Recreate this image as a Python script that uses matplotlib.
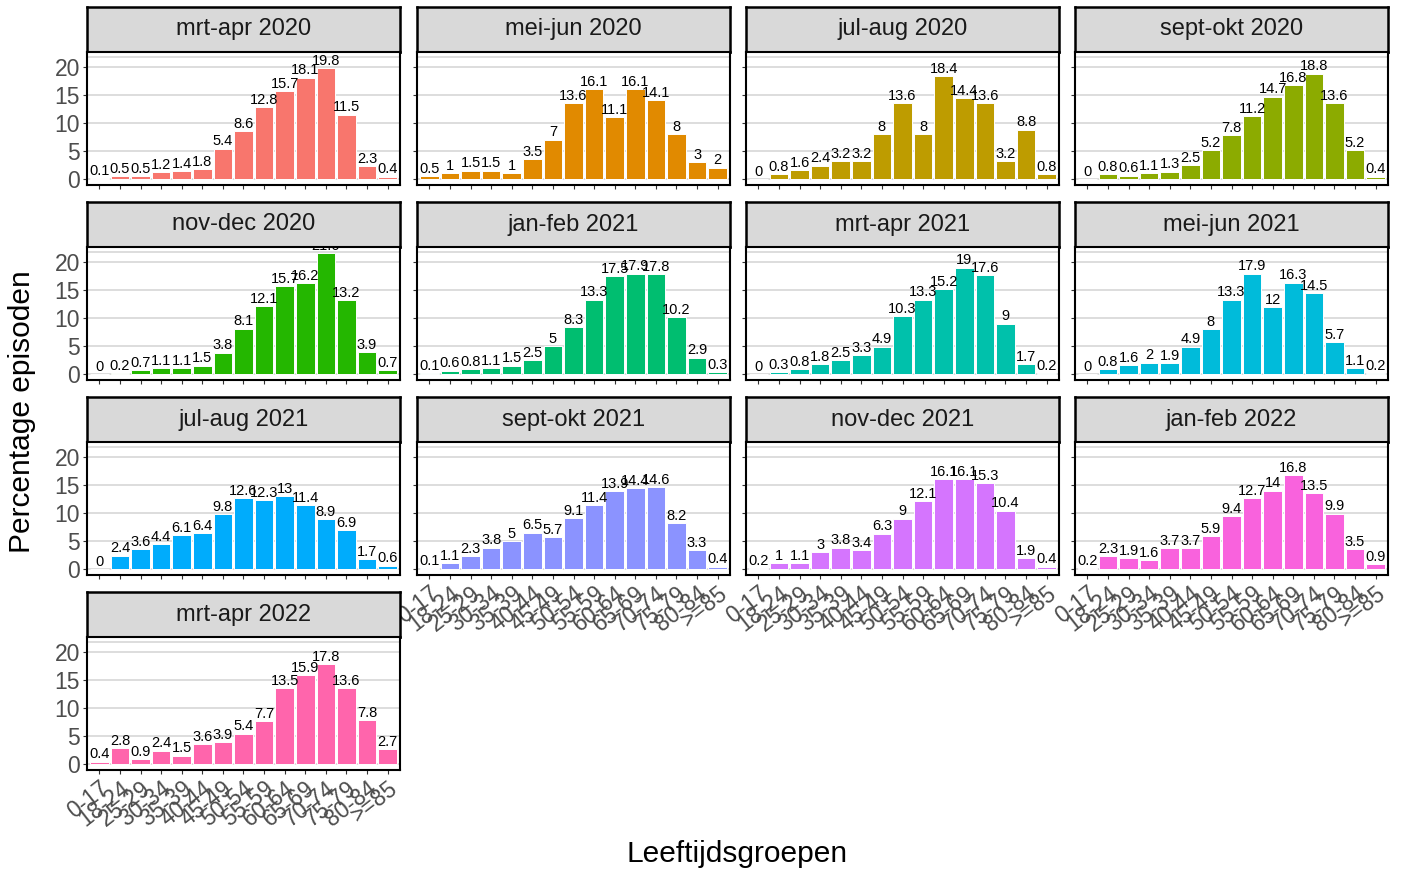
import matplotlib
matplotlib.use("Agg")
import matplotlib.pyplot as plt
import numpy as np

plt.rcParams.update({
    "font.family": ["Liberation Sans", "DejaVu Sans"],
    "font.size": 11,
})

age_groups = ["0-17", "18-24", "25-29", "30-34", "35-39", "40-44", "45-49",
              "50-54", "55-59", "60-64", "65-69", "70-74", "75-79", "80-84", ">=85"]

periods = ["mrt-apr 2020", "mei-jun 2020", "jul-aug 2020", "sept-okt 2020",
           "nov-dec 2020", "jan-feb 2021", "mrt-apr 2021", "mei-jun 2021",
           "jul-aug 2021", "sept-okt 2021", "nov-dec 2021", "jan-feb 2022",
           "mrt-apr 2022"]

mrt_apr_2020 = [0.1, 0.5, 0.5, 1.2, 1.4, 1.8, 5.4, 8.6, 12.8, 15.7, 18.1, 19.8, 11.5, 2.3, 0.4]
mei_jun_2020 = [0.5, 1, 1.5, 1.5, 1, 3.5, 7, 13.6, 16.1, 11.1, 16.1, 14.1, 8, 3, 2]
jul_aug_2020 = [0, 0.8, 1.6, 2.4, 3.2, 3.2, 8, 13.6, 8, 18.4, 14.4, 13.6, 3.2, 8.8, 0.8]
sep_okt_2020 = [0, 0.8, 0.6, 1.1, 1.3, 2.5, 5.2, 7.8, 11.2, 14.7, 16.8, 18.8, 13.6, 5.2, 0.4]
nov_dec_2020 = [0, 0.2, 0.7, 1.1, 1.1, 1.5, 3.8, 8.1, 12.1, 15.7, 16.2, 21.6, 13.2, 3.9, 0.7]
jan_feb_2021 = [0.1, 0.6, 0.8, 1.1, 1.5, 2.5, 5, 8.3, 13.3, 17.5, 17.9, 17.8, 10.2, 2.9, 0.3]
mrt_apr_2021 = [0, 0.3, 0.8, 1.8, 2.5, 3.3, 4.9, 10.3, 13.3, 15.2, 19, 17.6, 9, 1.7, 0.2]
mei_jun_2021 = [0, 0.8, 1.6, 2, 1.9, 4.9, 8, 13.3, 17.9, 12, 16.3, 14.5, 5.7, 1.1, 0.2]
jul_aug_2021 = [0, 2.4, 3.6, 4.4, 6.1, 6.4, 9.8, 12.6, 12.3, 13, 11.4, 8.9, 6.9, 1.7, 0.6]
sep_okt_2021 = [0.1, 1.1, 2.3, 3.8, 5, 6.5, 5.7, 9.1, 11.4, 13.9, 14.4, 14.6, 8.2, 3.3, 0.4]
nov_dec_2021 = [0.2, 1, 1.1, 3, 3.8, 3.4, 6.3, 9, 12.1, 16.1, 16.1, 15.3, 10.4, 1.9, 0.4]
jan_feb_2022 = [0.2, 2.3, 1.9, 1.6, 3.7, 3.7, 5.9, 9.4, 12.7, 14, 16.8, 13.5, 9.9, 3.5, 0.9]
mrt_apr_2022 = [0.4, 2.8, 0.9, 2.4, 1.5, 3.6, 3.9, 5.4, 7.7, 13.5, 15.9, 17.8, 13.6, 7.8, 2.7]

series = [mrt_apr_2020, mei_jun_2020, jul_aug_2020, sep_okt_2020,
          nov_dec_2020, jan_feb_2021, mrt_apr_2021, mei_jun_2021,
          jul_aug_2021, sep_okt_2021, nov_dec_2021, jan_feb_2022,
          mrt_apr_2022]

# ggplot default hue palette for 13 levels
colors = ["#F8766D", "#E18A00", "#BE9C00", "#8CAB00", "#24B700", "#00BE70",
          "#00C1AB", "#00BBDA", "#00ACFC", "#8B93FF", "#D575FE", "#F962DD",
          "#FF65AC"]

W, H = 1401, 871
fig = plt.figure(figsize=(W / 100, H / 100), dpi=100)

col_x = [87, 417, 746, 1075]
panel_w = 313
strip_top0 = 7
strip_h = 45
panel_h = 133
row_pitch = 195

ymax = max(max(s) for s in series)
ylo, yhi = -0.05 * ymax, ymax * 1.05
x = np.arange(len(age_groups))

for i, (name, vals, c) in enumerate(zip(periods, series, colors)):
    r, k = divmod(i, 4)
    top = strip_top0 + r * row_pitch
    left = col_x[k]
    # strip
    sax = fig.add_axes([left / W, 1 - (top + strip_h) / H, panel_w / W, strip_h / H])
    sax.set_facecolor("#D9D9D9")
    sax.set_xticks([])
    sax.set_yticks([])
    for sp in sax.spines.values():
        sp.set_linewidth(1.8)
        sp.set_color("black")
    sax.text(0.5, 0.5, name, ha="center", va="center", fontsize=17,
             color="#1A1A1A", transform=sax.transAxes)

    # panel
    ax = fig.add_axes([left / W, 1 - (top + strip_h + panel_h) / H,
                       panel_w / W, panel_h / H])
    ax.bar(x, vals, width=0.9, color=c, edgecolor="white", linewidth=0.7, zorder=2)
    for xi, v in zip(x, vals):
        ax.annotate(f"{v:g}", (xi, v), xytext=(0, 0.2), textcoords="offset points",
                    ha="center", va="bottom", fontsize=10.5, color="black",
                    zorder=3, clip_on=True)
    ax.set_xlim(-0.6, len(age_groups) - 0.4)
    ax.set_ylim(ylo, yhi)
    ax.set_yticks([0, 5, 10, 15, 20])
    ax.set_yticks([21.8], minor=True)
    ax.grid(axis="y", which="both", color="#DADADA", linewidth=1.3, zorder=0)
    ax.tick_params(axis="y", which="minor", length=0)
    ax.set_xticks(x)
    ax.tick_params(axis="both", which="major", length=3, color="#333333",
                   width=0.8, labelsize=16.5, labelcolor="#4D4D4D", pad=2)
    for sp in ax.spines.values():
        sp.set_linewidth(1.5)
        sp.set_color("black")
    ax.set_axisbelow(True)
    if k == 0:
        ax.set_yticklabels(["0", "5", "10", "15", "20"])
    else:
        ax.set_yticklabels([])
    bottom_row = (i + 4 >= len(periods))
    if bottom_row:
        ax.set_xticklabels(age_groups, rotation=38, ha="right", va="top",
                           rotation_mode="anchor")
    else:
        ax.set_xticklabels([])

fig.text(22 / W, 1 - 412 / H, "Percentage episoden", rotation=90,
         ha="center", va="center", fontsize=21.5, color="black")
fig.text(737 / W, 1 - 854 / H, "Leeftijdsgroepen", ha="center", va="center",
         fontsize=21.5, color="black")

fig.savefig("out.png", dpi=100)
